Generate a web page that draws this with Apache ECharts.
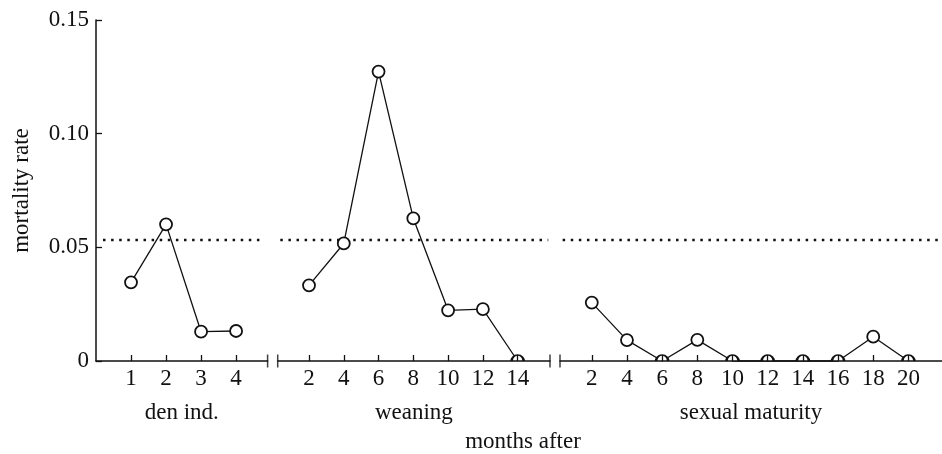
<!DOCTYPE html>
<html>
<head>
<meta charset="utf-8">
<script src="https://cdn.jsdelivr.net/npm/echarts@6/dist/echarts.min.js"></script>
<style>
  html, body { margin: 0; padding: 0; background: #fff; }
  #chart { width: 942px; height: 454px; }
</style>
</head>
<body>
<div id="chart"></div>
<script>
// data
const denMonths = [1, 2, 3, 4]
const denRate = [0.0346, 0.0601, 0.0129, 0.0132]
const weanMonths = [2, 4, 6, 8, 10, 12, 14]
const weanRate = [0.0333, 0.0517, 0.1273, 0.0627, 0.0223, 0.0228, 0]
const sexMonths = [2, 4, 6, 8, 10, 12, 14, 16, 18, 20]
const sexRate = [0.0257, 0.0092, 0, 0.0093, 0, 0, 0, 0, 0.0107, 0]
const meanRate = 0.0532
const yTicks = [0, 0.05, 0.10, 0.15]
const panelNames = ['den ind.', 'weaning', 'sexual maturity']

const FONT = 'Liberation Serif'
const INK = '#111'

// axis extents of the three panels
const panels = [
    {ticks: denMonths, min: 0, max: 4.9, left: 96, width: 171.6, breakL: false, breakR: true},
    {ticks: weanMonths, min: 0.2, max: 15.86, left: 277.7, width: 272.3, breakL: true, breakR: true},
    {ticks: sexMonths, min: 0.193, max: 21.91, left: 560, width: 388, breakL: true, breakR: false}
]
const seriesData = [
    [denMonths, denRate],
    [weanMonths, weanRate],
    [sexMonths, sexRate]
]

const HALF = 'path://M0,10A10,10,0,0,1,20,10'

function makePoint(x, y) {
    if (y === 0) {
        // point sitting on the axis: only upper half visible
        return {value: [x, y], symbol: HALF, symbolSize: [12, 6], symbolOffset: [0, -3]}
    }
    return {value: [x, y]}
}

let grid = []
let xAxis = []
let yAxis = []
let series = []

panels.forEach((p, i) => {
    grid.push({left: p.left, top: 20, width: p.width, bottom: 93, containLabel: false})
    xAxis.push({
        type: 'value',
        gridIndex: i,
        min: p.min,
        max: p.max,
        z: 10,
        name: panelNames[i],
        nameLocation: 'middle',
        nameGap: 40,
        nameTextStyle: {fontFamily: FONT, fontSize: 23, color: INK},
        axisLine: {show: true, onZero: false, lineStyle: {color: INK, width: 1.5}},
        axisTick: {show: true, inside: true, length: 6, customValues: p.ticks, lineStyle: {color: INK, width: 1.3}},
        axisLabel: {show: true, customValues: p.ticks, margin: 6, fontFamily: FONT, fontSize: 23, color: INK},
        splitLine: {show: false}
    })
    yAxis.push({
        type: 'value',
        gridIndex: i,
        min: 0,
        max: 0.15,
        interval: 0.05,
        show: i === 0,
        name: i === 0 ? 'mortality rate' : '',
        nameLocation: 'middle',
        nameGap: 63,
        nameTextStyle: {fontFamily: FONT, fontSize: 23, color: INK},
        axisLine: {show: true, lineStyle: {color: INK, width: 1.5}},
        axisTick: {show: true, inside: true, length: 6, customValues: yTicks, lineStyle: {color: INK, width: 1.3}},
        axisLabel: {
            show: true,
            customValues: yTicks,
            margin: 7,
            fontFamily: FONT,
            fontSize: 23,
            color: INK,
            formatter: (v) => v === 0 ? '0' : v.toFixed(2)
        },
        splitLine: {show: false}
    })

    // overall mean, dotted across the panel
    series.push({
        type: 'line',
        xAxisIndex: i,
        yAxisIndex: i,
        data: [[p.min + (i === 0 ? 0.2 : 0.15), meanRate], [p.max - 0.1, meanRate]],
        symbol: 'none',
        clip: false,
        z: 3,
        silent: true,
        lineStyle: {color: INK, width: 2.5, type: [2.5, 5.6], cap: 'butt'},
        animation: false
    })

    let d = seriesData[i]
    series.push({
        type: 'line',
        xAxisIndex: i,
        yAxisIndex: i,
        data: d[0].map((m, k) => makePoint(m, d[1][k])),
        symbol: 'circle',
        symbolSize: 12,
        showAllSymbol: true,
        clip: false,
        z: 5,
        lineStyle: {color: INK, width: 1.3},
        itemStyle: {color: '#fff', borderColor: INK, borderWidth: 1.8},
        emphasis: {disabled: true},
        animation: false
    })

    // axis break marks
    let breaks = []
    if (p.breakL) breaks.push([p.min, 0])
    if (p.breakR) breaks.push([p.max, 0])
    if (breaks.length) {
        series.push({
            type: 'scatter',
            xAxisIndex: i,
            yAxisIndex: i,
            data: breaks,
            symbol: 'rect',
            symbolSize: [1.5, 13],
            clip: false,
            z: 11,
            itemStyle: {color: INK},
            silent: true,
            animation: false
        })
    }
})

const chart = echarts.init(document.getElementById('chart'), null, {renderer: 'canvas'})
chart.setOption({
    backgroundColor: '#fff',
    animation: false,
    grid: grid,
    xAxis: xAxis,
    yAxis: yAxis,
    series: series,
    graphic: [{
        type: 'text',
        x: 523,
        y: 442,
        style: {
            text: 'months after',
            fontFamily: FONT,
            fontSize: 23,
            fill: INK,
            align: 'center',
            verticalAlign: 'middle'
        }
    }]
})
</script>
</body>
</html>
